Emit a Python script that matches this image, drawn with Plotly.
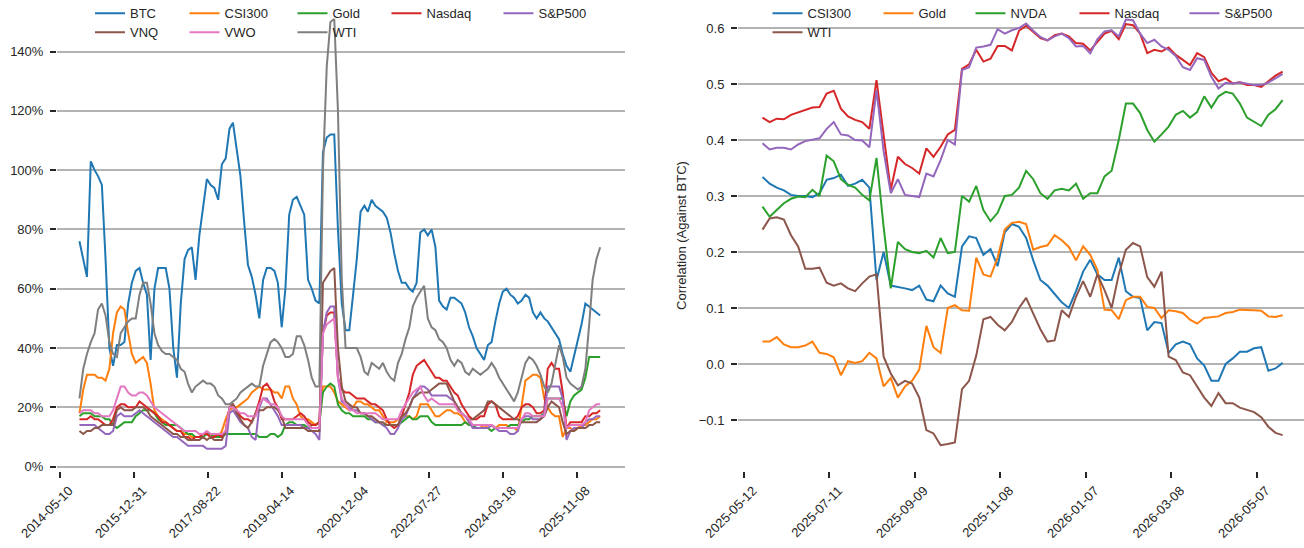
import pandas as pd
import plotly.graph_objects as go

# ---------------- data: left panel (rolling volatility, %) ----------------
left_dates = pd.date_range("2014-10-01", periods=140, freq="MS") + pd.Timedelta(days=14)

btc = [76,70,64,103,100,98,95,70,40,34, 41,41,42,55,62,66,67,62,58,36,
       60,67,67,67,60,40,30,55,70,73, 74,63,78,88,97,95,94,90,102,104,
       114,116,107,98,82,68,64,58,50,63, 67,67,66,62,47,60,85,90,91,88,
       85,63,60,56,55,106,111,112,112,80, 55,46,46,58,70,86,88,86,90,88,
       87,86,84,79,72,66,62,62,60,59, 62,79,80,78,80,74,56,54,53,57,
       57,56,55,52,47,44,40,38,36,41, 42,49,55,59,60,58,57,55,56,58,
       57,52,50,52,50,49,47,45,43,38, 34,32,37,42,48,55,54,53,52,51]
csi300 = [18,26,31,31,31,30,30,29,33,45, 52,54,53,45,38,35,36,37,35,28,
          19,17,16,15,14,13,12,12,11,11, 10,10,10,11,11,10,11,10,12,16,
          19,20,20,21,22,23,25,26,27,26, 26,26,25,25,23,27,27,23,21,17,
          16,16,15,14,15,27,27,27,25,22, 21,20,19,20,22,22,21,21,20,19,
          19,17,15,15,15,16,17,17,17,16, 17,21,21,21,19,17,17,18,19,19,
          18,18,17,15,14,14,14,14,13,14, 14,13,14,14,14,13,13,12,20,29,
          30,31,31,30,23,20,18,17,17,10, 13,13,12,13,14,14,15,16,16,17]
gold = [17,18,18,18,17,17,17,16,16,14, 13,14,15,15,15,17,18,19,19,19,
        18,16,15,14,14,14,14,13,12,11, 11,10,10,10,11,11,10,10,10,11,
        11,11,11,11,11,11,11,11,10,10, 10,11,11,10,11,14,15,15,14,14,
        14,13,14,14,15,25,27,28,27,21, 19,18,18,17,17,17,17,16,16,15,
        15,14,14,14,14,14,15,16,17,16, 16,17,17,17,15,14,14,14,14,14,
        14,14,14,15,14,14,13,13,13,13, 12,13,13,13,13,14,14,14,15,16,
        16,17,17,17,18,23,23,23,23,23, 17,22,24,25,26,30,37,37,37,37]
nasdaq = [16,16,16,17,16,16,15,14,14,16, 20,21,21,20,20,20,22,21,20,19,
          18,17,15,15,14,13,12,12,10,10, 9,10,10,11,11,10,10,11,10,12,
          20,21,19,17,16,16,15,18,22,27, 28,26,22,20,16,16,16,16,17,18,
          17,15,14,14,15,45,51,52,52,30, 26,25,25,24,23,23,23,22,21,21,
          20,19,16,14,13,14,17,21,25,31, 34,35,36,34,32,30,30,29,29,27,
          25,24,21,19,17,16,16,17,17,21, 22,21,17,16,16,16,16,17,20,21,
          21,20,18,18,19,33,35,33,33,25, 13,15,15,15,15,17,17,18,18,19]
sp500 = [14,14,14,14,14,13,12,11,11,12, 17,18,17,17,17,18,19,18,17,16,
         15,14,13,12,11,10,10,9,8,7, 7,7,7,7,6,6,6,6,6,7,
         18,19,17,15,14,13,10,9,20,23, 23,21,19,17,14,14,14,14,14,14,
         13,13,12,11,9,45,52,54,54,30, 22,21,20,19,19,18,18,17,16,15,
         15,14,13,11,11,13,16,17,20,23, 25,27,27,26,24,24,24,24,24,23,
         22,20,18,17,15,13,13,13,13,13, 14,13,12,12,12,11,11,12,16,17,
         17,16,16,16,18,27,27,27,27,23, 9,12,13,13,13,15,16,16,17,17]
vnq = [12,11,12,12,13,13,14,14,14,14, 19,20,19,19,19,20,20,20,19,17,
       16,15,14,13,12,11,11,10,10,9, 9,9,9,10,9,10,9,9,9,12,
       20,21,18,16,14,13,15,18,19,19, 20,20,20,19,17,13,13,13,13,13,
       13,12,12,12,12,62,64,66,67,40, 27,22,21,20,20,18,18,17,17,16,
       15,15,14,14,14,14,17,18,20,23, 24,25,25,25,26,27,28,28,28,25,
       22,20,18,17,16,16,17,18,19,22, 22,21,20,19,18,17,16,16,15,15,
       15,15,15,16,17,20,22,21,20,15, 11,12,12,13,13,13,14,14,15,15]
vwo = [18,19,19,19,18,18,17,17,17,19, 23,27,27,25,24,24,25,25,24,22,
       20,19,18,17,16,15,14,13,12,12, 12,12,11,11,12,11,11,11,11,12,
       20,20,19,18,18,17,17,17,21,23, 22,21,21,20,17,16,16,16,16,16,
       16,14,13,13,13,45,48,49,50,30, 23,21,19,19,18,18,18,18,18,18,
       17,16,16,16,16,16,19,21,23,25, 26,27,24,22,23,22,21,21,21,21,
       21,19,18,17,16,14,14,14,14,14, 14,13,13,13,13,13,13,13,16,18,
       18,17,17,17,17,23,23,23,23,20, 13,14,14,14,14,15,19,20,21,21]
wti = [23,33,38,42,45,53,55,51,42,38, 37,45,47,49,50,50,58,62,62,55,
       45,41,39,38,38,37,36,33,32,28, 25,27,28,29,28,28,27,24,23,21,
       21,22,23,25,26,27,28,27,27,34, 38,42,43,42,40,37,37,38,44,44,
       41,36,30,27,27,100,135,150,151,120, 63,40,40,40,40,37,32,31,35,34,
       33,35,32,30,29,35,38,43,47,54, 57,59,61,50,47,46,43,42,40,36,
       34,36,35,32,31,33,32,31,32,33, 35,33,30,28,26,24,22,25,30,35,
       37,36,34,31,27,25,28,35,41,37, 30,28,27,26,27,33,48,63,70,74]

# ---------------- data: right panel (correlation against BTC) ----------------
right_dates = pd.date_range("2025-05-25", periods=74, freq="5D")

r_csi300 = [0.334,0.322,0.315,0.31,0.302,0.3,0.3,0.298,0.305,0.329,
            0.332,0.338,0.318,0.322,0.329,0.315,0.15,0.2,0.14,0.138,
            0.135,0.132,0.14,0.115,0.112,0.14,0.126,0.12,0.21,0.228,
            0.225,0.195,0.205,0.175,0.235,0.25,0.245,0.225,0.185,0.15,
            0.14,0.125,0.11,0.1,0.13,0.165,0.186,0.16,0.15,0.15,
            0.19,0.13,0.12,0.118,0.06,0.075,0.073,0.02,0.035,0.04,
            0.035,0.01,-0.003,-0.03,-0.03,0.0,0.01,0.022,0.022,0.028,
            0.03,-0.012,-0.008,0.002]
r_gold = [0.04,0.04,0.048,0.035,0.03,0.03,0.033,0.04,0.02,0.018,
          0.012,-0.02,0.005,0.002,0.005,0.02,0.01,-0.04,-0.025,-0.06,
          -0.04,-0.03,-0.01,0.068,0.03,0.02,0.1,0.105,0.096,0.095,
          0.19,0.16,0.156,0.19,0.24,0.252,0.254,0.25,0.204,0.209,
          0.212,0.23,0.221,0.209,0.185,0.21,0.195,0.168,0.097,0.096,
          0.08,0.114,0.12,0.12,0.102,0.1,0.082,0.096,0.094,0.091,
          0.079,0.072,0.082,0.083,0.085,0.091,0.093,0.097,0.097,0.096,
          0.095,0.085,0.084,0.087]
r_nvda = [0.281,0.263,0.275,0.287,0.295,0.299,0.298,0.311,0.3,0.372,
          0.362,0.33,0.32,0.315,0.302,0.292,0.368,0.245,0.135,0.218,
          0.205,0.2,0.198,0.202,0.19,0.225,0.198,0.2,0.3,0.29,
          0.318,0.275,0.255,0.27,0.3,0.302,0.315,0.345,0.33,0.305,
          0.295,0.31,0.313,0.31,0.322,0.295,0.305,0.305,0.335,0.345,
          0.4,0.465,0.465,0.448,0.418,0.397,0.41,0.424,0.445,0.452,
          0.44,0.45,0.478,0.458,0.478,0.486,0.483,0.465,0.44,0.432,
          0.425,0.445,0.455,0.471]
r_nasdaq = [0.44,0.432,0.438,0.437,0.445,0.449,0.454,0.458,0.459,0.483,
            0.488,0.456,0.442,0.436,0.432,0.42,0.507,0.41,0.311,0.37,
            0.357,0.35,0.34,0.385,0.37,0.388,0.41,0.418,0.527,0.535,
            0.561,0.54,0.545,0.568,0.568,0.56,0.595,0.604,0.593,0.582,
            0.578,0.587,0.59,0.585,0.573,0.572,0.56,0.575,0.59,0.595,
            0.58,0.607,0.605,0.59,0.555,0.561,0.558,0.565,0.552,0.543,
            0.534,0.555,0.548,0.52,0.505,0.51,0.501,0.503,0.498,0.498,
            0.495,0.505,0.515,0.522]
r_sp500 = [0.394,0.383,0.386,0.386,0.383,0.392,0.398,0.4,0.403,0.42,
           0.432,0.41,0.408,0.4,0.399,0.387,0.489,0.38,0.305,0.33,
           0.302,0.3,0.298,0.34,0.335,0.364,0.4,0.392,0.525,0.53,
           0.565,0.567,0.57,0.598,0.59,0.596,0.6,0.608,0.595,0.584,
           0.578,0.585,0.59,0.582,0.567,0.568,0.555,0.58,0.594,0.596,
           0.585,0.615,0.614,0.59,0.573,0.579,0.567,0.561,0.55,0.53,
           0.525,0.546,0.543,0.513,0.492,0.502,0.501,0.503,0.501,0.498,
           0.498,0.503,0.51,0.518]
r_wti = [0.24,0.26,0.262,0.258,0.23,0.21,0.17,0.17,0.172,0.145,
         0.14,0.144,0.135,0.13,0.144,0.156,0.16,0.013,-0.017,-0.038,
         -0.03,-0.035,-0.06,-0.118,-0.124,-0.145,-0.143,-0.14,-0.045,-0.03,
         0.015,0.08,0.084,0.07,0.06,0.075,0.1,0.118,0.09,0.062,
         0.04,0.042,0.096,0.084,0.12,0.148,0.12,0.16,0.132,0.1,
         0.16,0.204,0.216,0.21,0.155,0.138,0.165,0.013,0.007,-0.015,
         -0.02,-0.04,-0.06,-0.075,-0.052,-0.07,-0.07,-0.078,-0.082,-0.086,
         -0.095,-0.112,-0.123,-0.127]

# ---------------- tick labels ----------------
left_ticks = ["2014-05-10", "2015-12-31", "2017-08-22", "2019-04-14",
              "2020-12-04", "2022-07-27", "2024-03-18", "2025-11-08"]
right_ticks = ["2025-05-12", "2025-07-11", "2025-09-09", "2025-11-08",
               "2026-01-07", "2026-03-08", "2026-05-07"]
left_yticks = [0, 0.2, 0.4, 0.6, 0.8, 1.0, 1.2, 1.4]
right_yticks = [-0.1, 0.0, 0.1, 0.2, 0.3, 0.4, 0.5, 0.6]

C = {"blue": "#1f77b4", "orange": "#ff7f0e", "green": "#2ca02c", "red": "#d62728",
     "purple": "#9467bd", "brown": "#8c564b", "pink": "#e377c2", "gray": "#7f7f7f"}

left_series = [
    ("BTC", btc, C["blue"], "legend", 49.5),
    ("CSI300", csi300, C["orange"], "legend", 63),
    ("Gold", gold, C["green"], "legend", 49),
    ("Nasdaq", nasdaq, C["red"], "legend", 67),
    ("S&P500", sp500, C["purple"], "legend", 60),
    ("VNQ", vnq, C["brown"], "legend2", 49.5),
    ("VWO", vwo, C["pink"], "legend2", 63),
    ("WTI", wti, C["gray"], "legend2", 49),
]
right_series = [
    ("CSI300", r_csi300, C["blue"], "legend3", 66),
    ("Gold", r_gold, C["orange"], "legend3", 47),
    ("NVDA", r_nvda, C["green"], "legend3", 59),
    ("Nasdaq", r_nasdaq, C["red"], "legend3", 65),
    ("S&P500", r_sp500, C["purple"], "legend3", 60),
    ("WTI", r_wti, C["brown"], "legend4", 60),
]

fig = go.Figure()
for name, vals, col, lg, lw in left_series:
    fig.add_trace(go.Scatter(x=left_dates, y=[v / 100 for v in vals], name=name, mode="lines",
                             line=dict(color=col, width=2), xaxis="x", yaxis="y",
                             legend=lg, legendwidth=lw))
for name, vals, col, lg, lw in right_series:
    fig.add_trace(go.Scatter(x=right_dates, y=vals, name=name, mode="lines",
                             line=dict(color=col, width=2), xaxis="x2", yaxis="y2",
                             legend=lg, legendwidth=lw))

FONT = "Liberation Sans, Arial, sans-serif"
TXT = "#262626"
GRID = "#b3b3b3"

axis_common = dict(showline=False, zeroline=False, ticks="outside", ticklen=6, tickwidth=1.5,
                   tickcolor=TXT, tickfont=dict(family=FONT, size=13, color=TXT))

legend_common = dict(orientation="h", bgcolor="rgba(0,0,0,0)", borderwidth=0,
                     font=dict(family=FONT, size=13, color=TXT), xanchor="left", yanchor="top",
                     traceorder="normal")

fig.update_layout(
    width=1304, height=548,
    margin=dict(l=57, r=0, t=0, b=77, autoexpand=False),
    paper_bgcolor="white", plot_bgcolor="white",
    font=dict(family=FONT, size=13, color=TXT),
    xaxis=dict(domain=[0, 0.4555], range=["2014-04-15 14:00", "2026-12-03"],
               tickvals=left_ticks, ticktext=left_ticks, tickangle=-45, showgrid=False,
               ticklabelshift=9, anchor="y", **axis_common),
    yaxis=dict(domain=[0, 1], range=[-0.0148, 1.574], tickvals=left_yticks, tickformat=".0%",
               showgrid=True, gridcolor=GRID, gridwidth=1.5, anchor="x",
               ticklabelstandoff=4, **axis_common),
    xaxis2=dict(domain=[0.5461, 1], range=["2025-05-07 19:00", "2026-06-09"],
                tickvals=right_ticks, ticktext=right_ticks, tickangle=-45, showgrid=False,
                ticklabelshift=9, anchor="y2", **axis_common),
    yaxis2=dict(domain=[0, 1], range=[-0.1911, 0.65], tickvals=right_yticks, tickformat=".1f",
                showgrid=True, gridcolor=GRID, gridwidth=1.5, anchor="x2",
                ticklabelstandoff=4,
                title=dict(text="Correlation (Against BTC)", standoff=9,
                           font=dict(family=FONT, size=13, color=TXT)),
                **axis_common),
    legend=dict(x=0.02646, y=1.0036, **legend_common),
    legend2=dict(x=0.02646, y=0.9633, **legend_common),
    legend3=dict(x=0.56977, y=1.0036, **legend_common),
    legend4=dict(x=0.56977, y=0.9633, **legend_common),
    showlegend=True,
)

fig.write_html("out.html", config={"displayModeBar": False},
               post_script="document.body.style.margin='0';document.body.style.padding='0';")
